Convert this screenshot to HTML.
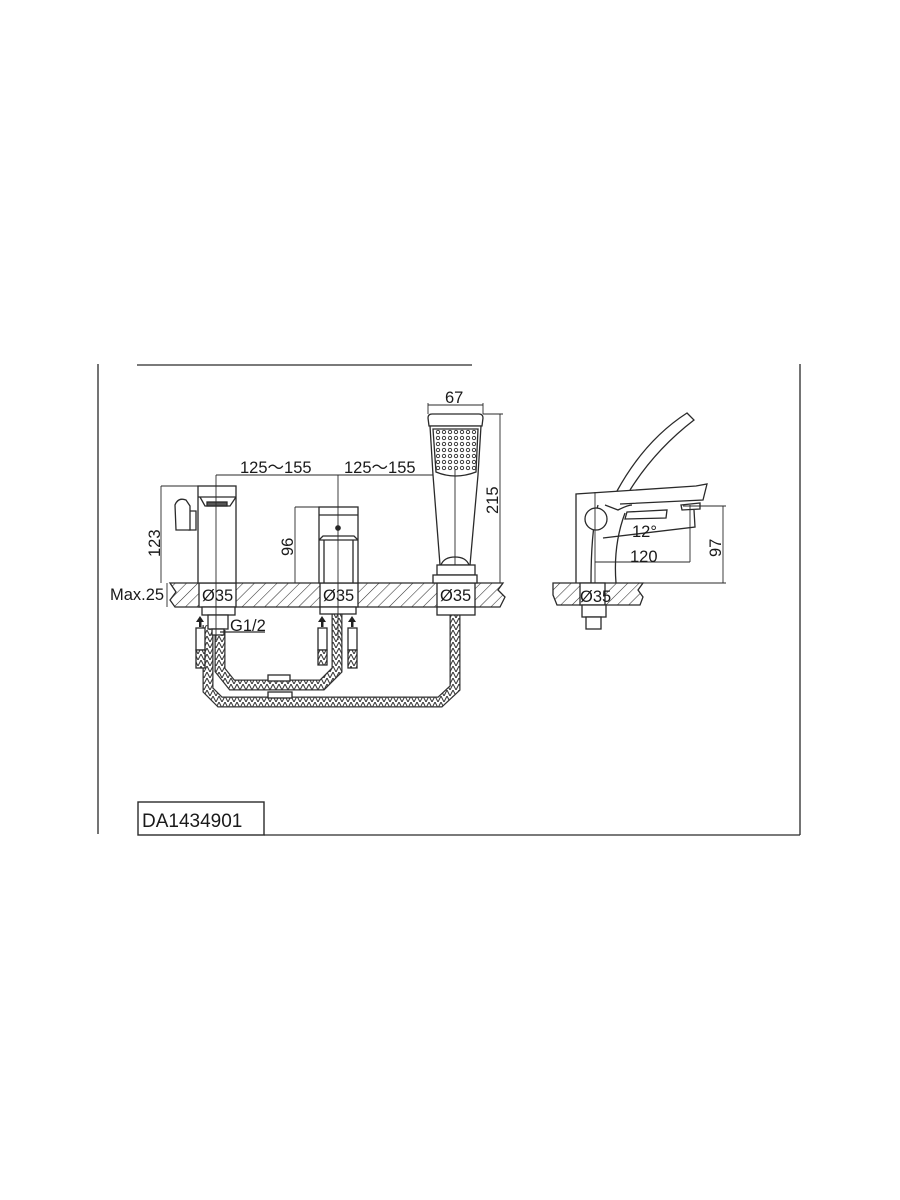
<!DOCTYPE html>
<html><head><meta charset="utf-8"><style>
html,body{margin:0;padding:0;background:#fff;width:900px;height:1200px;overflow:hidden}
svg{display:block}
text{font-family:"Liberation Sans",sans-serif;fill:#1a1a1a}
</style></head><body>
<svg width="900" height="1200" viewBox="0 0 900 1200" xmlns="http://www.w3.org/2000/svg">
<defs>
<pattern id="h" width="8" height="8" patternUnits="userSpaceOnUse" patternTransform="rotate(45)">
<rect width="8" height="8" fill="#fff"/><line x1="0" y1="0" x2="0" y2="8" stroke="#333" stroke-width="1.1"/>
</pattern>
<pattern id="hose" width="6" height="6" patternUnits="userSpaceOnUse">
<rect width="6" height="6" fill="#fff"/><path d="M0 6L3 0L6 6" fill="none" stroke="#333" stroke-width="1"/>
</pattern>
</defs>
<g stroke="#2a2a2a" fill="none" stroke-width="1.3">
<line x1="98" y1="364" x2="98" y2="834"/>
<line x1="800" y1="364" x2="800" y2="835"/>
<line x1="137" y1="365" x2="472" y2="365"/>
<line x1="264" y1="835" x2="800" y2="835"/>
<rect x="138" y="802" width="126" height="33" stroke-width="1.4"/>

<path d="M170 583 L503 583 L498 590 L505 597 L500 607 L175 607 L170 600 L176 592 Z" fill="url(#h)"/>
<rect x="199" y="583" width="37" height="24" fill="#fff"/>
<rect x="320" y="583" width="38" height="24" fill="#fff"/>
<rect x="437" y="583" width="38" height="24" fill="#fff"/>

<path d="M208 625 L208 690 L220 702 L440 702 L455 688 L455 612" stroke="#333" stroke-width="11"/>
<path d="M208 625 L208 690 L220 702 L440 702 L455 688 L455 612" stroke="url(#hose)" stroke-width="8.5"/>
<path d="M220 630 L220 670 L232 685 L322 685 L337 670 L337 612" stroke="#333" stroke-width="11"/>
<path d="M220 630 L220 670 L232 685 L322 685 L337 670 L337 612" stroke="url(#hose)" stroke-width="8.5"/>
<rect x="268" y="675" width="22" height="6" fill="#fff"/>
<rect x="268" y="692" width="24" height="6" fill="#fff"/>

<rect x="202" y="607" width="33" height="8" fill="#fff"/>
<rect x="208" y="615" width="20" height="14" fill="#fff"/>
<rect x="212" y="629" width="12" height="6" fill="#fff"/>
<rect x="320" y="607" width="36" height="7" fill="#fff"/>
<rect x="437" y="607" width="38" height="8" fill="#fff"/>
<g fill="#fff">
<rect x="196" y="628" width="9" height="22"/><path d="M196 650 L205 650 L205 668 L196 668 Z" fill="url(#hose)"/>
<rect x="318" y="628" width="9" height="22"/><path d="M318 650 L327 650 L327 665 L318 665 Z" fill="url(#hose)"/>
<rect x="348" y="628" width="9" height="22"/><path d="M348 650 L357 650 L357 668 L348 668 Z" fill="url(#hose)"/>
</g>
<g fill="#222" stroke="none">
<path d="M200 616 L196 622 L204 622 Z"/><rect x="199" y="621" width="2.5" height="6"/>
<path d="M322 616 L318 622 L326 622 Z"/><rect x="321" y="621" width="2.5" height="6"/>
<path d="M352 616 L348 622 L356 622 Z"/><rect x="351" y="621" width="2.5" height="6"/>
</g>
<line x1="220" y1="632" x2="265" y2="632"/>

<rect x="198" y="486" width="38" height="97" fill="#fff"/>
<path d="M198 497 L236 497 M200 497 L205 506 L230 506 L236 497"/>
<rect x="207" y="502" width="20" height="4" fill="#555"/>
<path d="M189 511 L196 511 L196 530 L189 530 Z"/>
<path d="M175 505 Q178 497 186 500 L190 506 L190 530 L176 530 Z" fill="#fff"/>
<line x1="216" y1="475" x2="216" y2="640" stroke-width="0.9"/>
<line x1="161" y1="486" x2="198" y2="486" stroke-width="0.9"/>
<line x1="161" y1="486" x2="161" y2="583" stroke-width="0.9"/>

<rect x="319" y="507" width="39" height="76" fill="#fff"/>
<path d="M319 515 L358 515 M319 540 L358 540"/>
<path d="M319 540 L323 536 L354 536 L358 540"/>
<line x1="324" y1="540" x2="324" y2="583"/><line x1="353" y1="540" x2="353" y2="583"/>
<circle cx="338" cy="528" r="2.2" fill="#222"/>
<line x1="338" y1="475" x2="338" y2="640" stroke-width="0.9"/>
<line x1="295" y1="507" x2="319" y2="507" stroke-width="0.9"/>
<line x1="295" y1="507" x2="295" y2="583" stroke-width="0.9"/>

<line x1="216" y1="475" x2="433" y2="475" stroke-width="0.9"/>

<path d="M428 418 Q428 414 432 414 L479 414 Q483 414 483 418 L482 426 L429 426 Z" fill="#fff"/>
<path d="M430 426 L481 426 L478 475 L470 565 L440 565 L433 475 Z" fill="#fff"/>
<path d="M433 429 L478 429 L476 472 Q455 480 436 472 Z"/>
<g fill="none" stroke="#333" stroke-width="0.9">
<g id="row">
<circle cx="438" cy="432" r="1.7"/><circle cx="444" cy="432" r="1.7"/><circle cx="450" cy="432" r="1.7"/><circle cx="456" cy="432" r="1.7"/><circle cx="462" cy="432" r="1.7"/><circle cx="468" cy="432" r="1.7"/><circle cx="474" cy="432" r="1.7"/>
</g>
<use href="#row" y="6"/><use href="#row" y="12"/><use href="#row" y="18"/><use href="#row" y="24"/><use href="#row" y="30"/><use href="#row" y="36"/>
</g>
<path d="M441 565 Q444 557 455 557 Q466 557 469 565"/>
<rect x="437" y="565" width="38" height="10" fill="#fff"/>
<rect x="433" y="575" width="44" height="8" fill="#fff"/>
<line x1="455" y1="470" x2="455" y2="565" stroke-width="0.9"/>
<line x1="428" y1="405" x2="483" y2="405" stroke-width="0.9"/>
<line x1="428" y1="403" x2="428" y2="414" stroke-width="0.9"/>
<line x1="483" y1="403" x2="483" y2="414" stroke-width="0.9"/>
<line x1="483" y1="414" x2="503" y2="414" stroke-width="0.9"/>
<line x1="500" y1="414" x2="500" y2="583" stroke-width="0.9"/>
<line x1="167" y1="583" x2="167" y2="607" stroke-width="0.9"/>

<path d="M553 583 L643 583 L638 590 L643 597 L640 605 L557 605 L553 595 Z" fill="url(#h)"/>
<rect x="580" y="583" width="25" height="22" fill="#fff"/>
<rect x="582" y="605" width="24" height="12" fill="#fff"/>
<rect x="586" y="617" width="15" height="12" fill="#fff"/>
<path d="M576 583 L576 494 L696 486 L707 484 L703 500 L620 504"/>
<path d="M591 583 Q591 530 598 505 M616 583 Q613 545 625 513"/>
<path d="M617 491 Q645 440 687 413 L694 420 Q655 450 630 490"/>
<path d="M605 505 L618 510 Q628 505 632 505 M627 512 L667 510 L666 518 L625 519 Z" fill="#fff"/>
<path d="M681 505 L700 503 L700 509 L682 510 Z" fill="#fff"/>
<circle cx="596" cy="519" r="11" fill="#fff"/>
<path d="M603 538 L695 527 L694 510"/>
<line x1="595" y1="562" x2="690" y2="562" stroke-width="0.9"/>
<line x1="690" y1="505" x2="690" y2="562" stroke-width="0.9"/>
<line x1="595" y1="492" x2="595" y2="583" stroke-width="0.9"/>
<line x1="683" y1="506" x2="726" y2="506" stroke-width="0.9"/>
<line x1="643" y1="583" x2="726" y2="583" stroke-width="0.9"/>
<line x1="723" y1="506" x2="723" y2="583" stroke-width="0.9"/>
</g>

<g font-size="16.5">
<text x="240" y="473">125～155</text>
<text x="344" y="473">125～155</text>
<text x="445" y="403">67</text>
<text x="110" y="600">Max.25</text>
<text x="202" y="601">Ø35</text>
<text x="323" y="601">Ø35</text>
<text x="440" y="601">Ø35</text>
<text x="580" y="602">Ø35</text>
<text x="230" y="631">G1/2</text>
<text x="632" y="537">12°</text>
<text x="630" y="562">120</text>
<text transform="translate(160,557) rotate(-90)">123</text>
<text transform="translate(293,556) rotate(-90)">96</text>
<text transform="translate(498,514) rotate(-90)">215</text>
<text transform="translate(721,557) rotate(-90)">97</text>
</g>
<text x="142" y="827" font-size="19">DA1434901</text>
</svg>
</body></html>
